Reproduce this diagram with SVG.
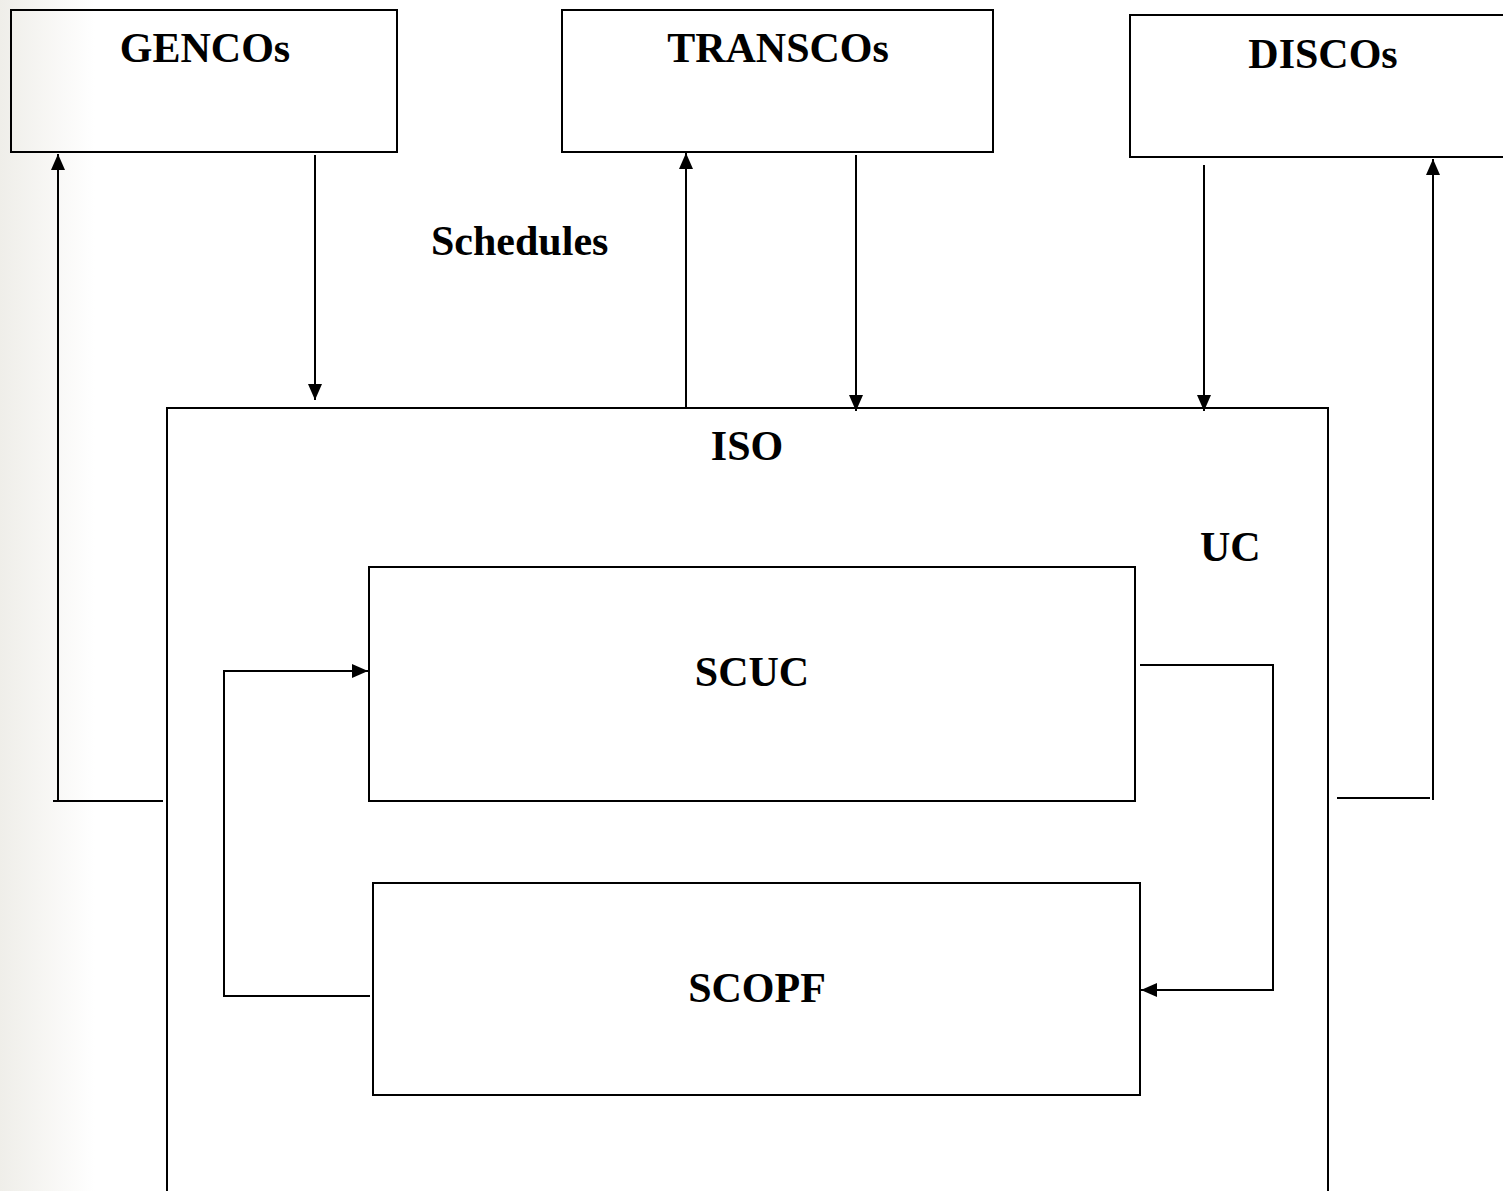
<svg xmlns="http://www.w3.org/2000/svg" width="1503" height="1191" viewBox="0 0 1503 1191">
<defs>
<linearGradient id="bg" x1="0" y1="0" x2="95" y2="0" gradientUnits="userSpaceOnUse">
<stop offset="0" stop-color="#efeee9"/>
<stop offset="1" stop-color="#ffffff"/>
</linearGradient>
<marker id="ah" markerWidth="16" markerHeight="14" refX="16" refY="7" orient="auto" markerUnits="userSpaceOnUse">
<path d="M0,0 L16,7 L0,14 Z" fill="#000"/>
</marker>
<style>
.box{fill:none;stroke:#000;stroke-width:2}
.ln{fill:none;stroke:#000;stroke-width:2}
.t{font-family:"Liberation Serif",serif;font-weight:bold;font-size:42px;fill:#000}
</style>
</defs>
<rect x="0" y="0" width="1503" height="1191" fill="#fff"/>
<rect x="0" y="0" width="95" height="1191" fill="url(#bg)"/>

<g id="gencos"><rect class="box" x="11" y="10" width="386" height="142"/><text class="t" x="205" y="62" text-anchor="middle">GENCOs</text></g>
<g id="transcos"><rect class="box" x="562" y="10" width="431" height="142"/><text class="t" x="778" y="62" text-anchor="middle">TRANSCOs</text></g>
<g id="discos"><rect class="box" x="1130" y="15" width="375" height="142"/><text class="t" x="1323" y="68" text-anchor="middle">DISCOs</text></g>
<g id="schedules"><text class="t" x="431" y="255">Schedules</text></g>
<g id="iso"><path class="box" d="M167,1195 L167,408 L1328,408 L1328,1195"/><text class="t" x="747" y="460" text-anchor="middle">ISO</text><text class="t" x="1200" y="561">UC</text></g>
<g id="scuc"><rect class="box" x="369" y="567" width="766" height="234"/><text class="t" x="752" y="686" text-anchor="middle">SCUC</text></g>
<g id="scopf"><rect class="box" x="373" y="883" width="767" height="212"/><text class="t" x="757" y="1002" text-anchor="middle">SCOPF</text></g>

<g id="connectors">
<line class="ln" x1="53" y1="801" x2="163" y2="801"/>
<line class="ln" x1="58" y1="800" x2="58" y2="154" marker-end="url(#ah)"/>
<line class="ln" x1="315" y1="155" x2="315" y2="400" marker-end="url(#ah)"/>
<line class="ln" x1="686" y1="408" x2="686" y2="153" marker-end="url(#ah)"/>
<line class="ln" x1="856" y1="155" x2="856" y2="411" marker-end="url(#ah)"/>
<line class="ln" x1="1204" y1="165" x2="1204" y2="411" marker-end="url(#ah)"/>
<line class="ln" x1="1337" y1="798" x2="1430" y2="798"/>
<line class="ln" x1="1433" y1="800" x2="1433" y2="159" marker-end="url(#ah)"/>
<polyline class="ln" points="1140,665 1273,665 1273,990 1141,990" marker-end="url(#ah)"/>
<polyline class="ln" points="370,996 224,996 224,671 368,671" marker-end="url(#ah)"/>
</g>
</svg>
